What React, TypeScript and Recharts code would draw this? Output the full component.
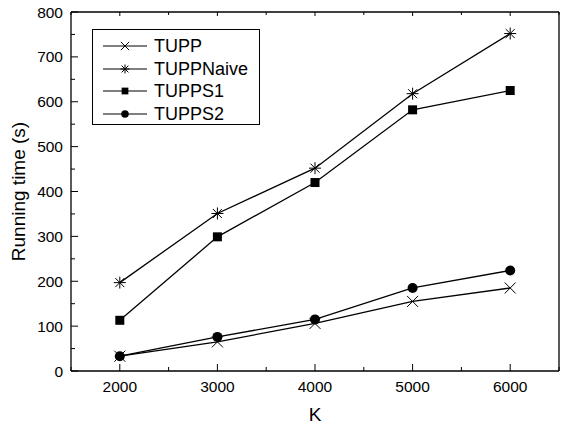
import { Label, Line, LineChart, XAxis, YAxis } from 'recharts'

const kValues = [2000, 3000, 4000, 5000, 6000]
const tupp = [33, 65, 106, 155, 185]
const tuppNaive = [197, 351, 452, 618, 752]
const tuppS1 = [113, 299, 420, 582, 625]
const tuppS2 = [33, 76, 115, 185, 224]

const xTicks = [1500, 2000, 2500, 3000, 3500, 4000, 4500, 5000, 5500, 6000, 6500]
const xLabels = [2000, 3000, 4000, 5000, 6000]
const yTicks = [0, 50, 100, 150, 200, 250, 300, 350, 400, 450, 500, 550, 600, 650, 700, 750, 800]
const yLabels = [0, 100, 200, 300, 400, 500, 600, 700, 800]

const data = kValues.map((k, i) => ({
  k,
  tupp: tupp[i],
  naive: tuppNaive[i],
  s1: tuppS1[i],
  s2: tuppS2[i],
}))

const FONT = '"Liberation Sans", Arial, sans-serif'

type Shape = 'cross' | 'star' | 'square' | 'circle'

function Marker({ cx, cy, shape, k = 1 }: { cx: number; cy: number; shape: Shape; k?: number }) {
  if (shape === 'cross') {
    const s = 5.5 * k
    return (
      <g stroke="#000" strokeWidth={1}>
        <line x1={cx - s} y1={cy - s} x2={cx + s} y2={cy + s} />
        <line x1={cx - s} y1={cy + s} x2={cx + s} y2={cy - s} />
      </g>
    )
  }
  if (shape === 'star') {
    const s = 6 * k
    const d = 4.5 * k
    return (
      <g stroke="#000" strokeWidth={1}>
        <line x1={cx - d} y1={cy - d} x2={cx + d} y2={cy + d} />
        <line x1={cx - d} y1={cy + d} x2={cx + d} y2={cy - d} />
        <line x1={cx - s} y1={cy} x2={cx + s} y2={cy} />
        <line x1={cx} y1={cy - s} x2={cx} y2={cy + s} />
      </g>
    )
  }
  if (shape === 'square') {
    const h = 4.5 * k
    return <rect x={cx - h} y={cy - h} width={2 * h} height={2 * h} fill="#000" />
  }
  return <circle cx={cx} cy={cy} r={5 * k} fill="#000" />
}

const dotFor = (shape: Shape) => (props: any) => (
  <Marker key={`${shape}-${props.index}`} cx={props.cx} cy={props.cy} shape={shape} />
)

const series: { key: string; name: string; shape: Shape }[] = [
  { key: 'tupp', name: 'TUPP', shape: 'cross' },
  { key: 'naive', name: 'TUPPNaive', shape: 'star' },
  { key: 's1', name: 'TUPPS1', shape: 'square' },
  { key: 's2', name: 'TUPPS2', shape: 'circle' },
]

function BottomTick({ x, y, payload }: any) {
  const major = payload.value % 1000 === 0
  return (
    <g>
      <line x1={x} y1={y} x2={x} y2={y - (major ? 7 : 4)} stroke="#000" strokeWidth={1} />
      {xLabels.includes(payload.value) && (
        <text x={x} y={y + 21} textAnchor="middle" fontSize={15.5} fontFamily={FONT} fill="#000">
          {payload.value}
        </text>
      )}
    </g>
  )
}

function TopTick({ x, y, payload }: any) {
  const major = payload.value % 1000 === 0
  return <line x1={x} y1={y} x2={x} y2={y + (major ? 4 : 3)} stroke="#000" strokeWidth={1} />
}

function LeftTick({ x, y, payload }: any) {
  const major = payload.value % 100 === 0
  return (
    <g>
      <line x1={x} y1={y} x2={x + (major ? 7 : 4)} y2={y} stroke="#000" strokeWidth={1} />
      {yLabels.includes(payload.value) && (
        <text x={x - 8} y={y + 5.5} textAnchor="end" fontSize={15.5} fontFamily={FONT} fill="#000">
          {payload.value}
        </text>
      )}
    </g>
  )
}

function RightTick({ x, y, payload }: any) {
  const major = payload.value % 100 === 0
  return <line x1={x} y1={y} x2={x - (major ? 4 : 3)} y2={y} stroke="#000" strokeWidth={1} />
}

function LegendBox() {
  return (
    <div
      style={{
        position: 'absolute',
        left: 92,
        top: 29,
        border: '1px solid #000',
        background: '#fff',
        width: 168,
        height: 96,
        paddingTop: 5,
        fontFamily: FONT,
        fontSize: 18,
        color: '#000',
        boxSizing: 'border-box',
      }}
    >
      {series.map((s) => (
        <div key={s.key} style={{ display: 'flex', alignItems: 'center', height: 22.6 }}>
          <svg width={58} height={20} style={{ flex: 'none' }}>
            <line x1={10} y1={10} x2={54} y2={10} stroke="#000" strokeWidth={1.2} />
            <Marker cx={32} cy={10} shape={s.shape} k={0.75} />
          </svg>
          <span style={{ marginLeft: 3, lineHeight: '20px' }}>{s.name}</span>
        </div>
      ))}
    </div>
  )
}

export default function App() {
  return (
    <div style={{ position: 'absolute', left: 0, top: 0, width: 561, height: 427, background: '#fff' }}>
      <LineChart width={561} height={427} data={data} margin={{ top: 11, right: 1, bottom: 0, left: 0 }}>
        <XAxis
          dataKey="k"
          type="number"
          domain={[1500, 6500]}
          ticks={xTicks}
          interval={0}
          height={56}
          tickSize={0}
          tickMargin={0}
          tickLine={false}
          tick={<BottomTick />}
          axisLine={{ stroke: '#000', strokeWidth: 1.3 }}
        >
          <Label
            content={({ viewBox }: any) => (
              <text
                x={viewBox.x + viewBox.width / 2}
                y={421}
                textAnchor="middle"
                fontSize={19}
                fontFamily={FONT}
                fill="#000"
              >
                K
              </text>
            )}
          />
        </XAxis>
        <XAxis
          xAxisId="top"
          orientation="top"
          dataKey="k"
          type="number"
          domain={[1500, 6500]}
          ticks={xTicks}
          interval={0}
          height={1}
          tickSize={0}
          tickMargin={0}
          tickLine={false}
          tick={<TopTick />}
          axisLine={{ stroke: '#000', strokeWidth: 1.3 }}
        />
        <YAxis
          type="number"
          domain={[0, 800]}
          ticks={yTicks}
          interval={0}
          width={71}
          tickSize={0}
          tickMargin={0}
          tickLine={false}
          tick={<LeftTick />}
          axisLine={{ stroke: '#000', strokeWidth: 1.3 }}
        >
          <Label
            content={({ viewBox }: any) => {
              const cy = viewBox.y + viewBox.height / 2
              return (
                <text
                  x={25}
                  y={cy}
                  transform={`rotate(-90, 25, ${cy})`}
                  textAnchor="middle"
                  fontSize={19}
                  fontFamily={FONT}
                  fill="#000"
                >
                  Running time (s)
                </text>
              )
            }}
          />
        </YAxis>
        <YAxis
          yAxisId="right"
          orientation="right"
          type="number"
          domain={[0, 800]}
          ticks={yTicks}
          interval={0}
          width={1}
          tickSize={0}
          tickMargin={0}
          tickLine={false}
          tick={<RightTick />}
          axisLine={{ stroke: '#000', strokeWidth: 1.3 }}
        />
        {series.map((s) => (
          <Line
            key={s.key}
            dataKey={s.key}
            name={s.name}
            stroke="#000"
            strokeWidth={1.3}
            dot={dotFor(s.shape)}
            activeDot={false}
            isAnimationActive={false}
          />
        ))}
      </LineChart>
      <LegendBox />
    </div>
  )
}
